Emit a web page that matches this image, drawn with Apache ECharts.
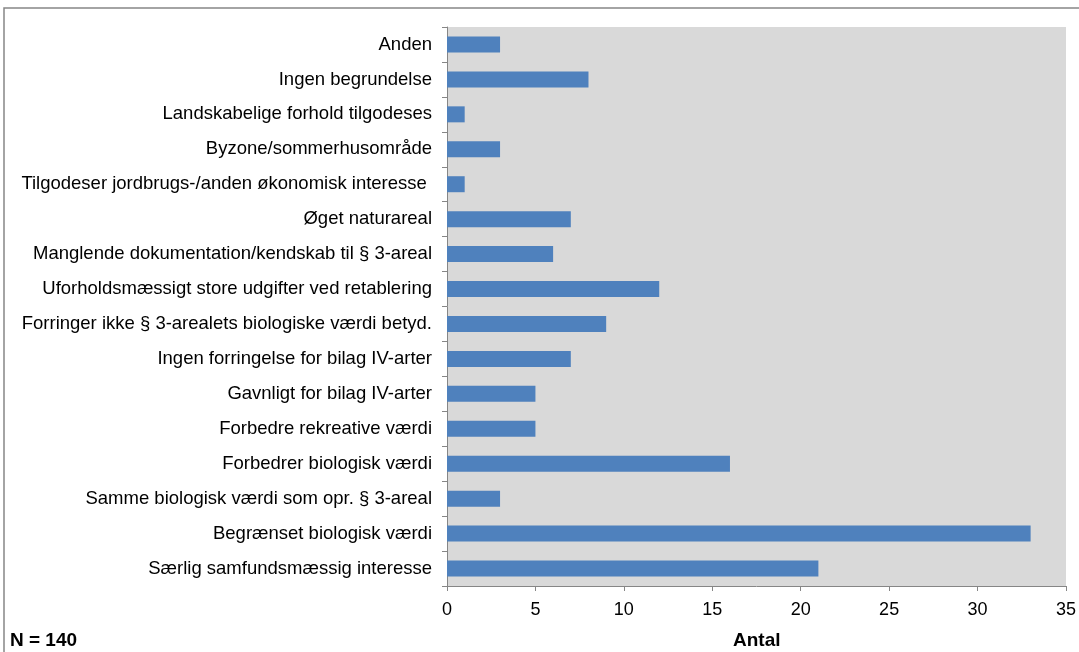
<!DOCTYPE html>
<html><head><meta charset="utf-8">
<script src="https://cdn.jsdelivr.net/npm/echarts@6/dist/echarts.min.js"></script>
<style>html,body{margin:0;padding:0;background:#fff}#c{width:1079px;height:652px}</style>
</head><body><div id="c"></div>
<script>
const categories = [
  "Særlig samfundsmæssig interesse",
  "Begrænset biologisk værdi",
  "Samme biologisk værdi som opr. § 3-areal",
  "Forbedrer biologisk værdi",
  "Forbedre rekreative værdi",
  "Gavnligt for bilag IV-arter",
  "Ingen forringelse for bilag IV-arter",
  "Forringer ikke § 3-arealets biologiske værdi betyd.",
  "Uforholdsmæssigt store udgifter ved retablering",
  "Manglende dokumentation/kendskab til § 3-areal",
  "Øget naturareal",
  "Tilgodeser jordbrugs-/anden økonomisk interesse ",
  "Byzone/sommerhusområde",
  "Landskabelige forhold tilgodeses",
  "Ingen begrundelse",
  "Anden"
];
const values = [21, 33, 3, 16, 5, 5, 7, 9, 12, 6, 7, 1, 3, 1, 8, 3];
const xTicks = [0, 5, 10, 15, 20, 25, 30, 35];
const xTitle = "Antal";
const noteText = "N = 140";

const chart = echarts.init(document.getElementById('c'));
const font = 'Liberation Sans, Arial, sans-serif';
chart.setOption({
  animation: false,
  grid: { left: 447, right: 13, top: 27, bottom: 66, backgroundColor: '#D9D9D9', show: true, borderWidth: 0 },
  xAxis: {
    type: 'value', min: xTicks[0], max: xTicks[xTicks.length - 1], interval: xTicks[1] - xTicks[0],
    axisLine: { show: true, lineStyle: { color: '#868686', width: 1 } },
    axisTick: { show: true, length: 5, lineStyle: { color: '#868686' } },
    splitLine: { show: false },
    axisLabel: { color: '#000', fontFamily: font, fontSize: 18, margin: 15 }
  },
  yAxis: {
    type: 'category', data: categories,
    axisLine: { show: true, lineStyle: { color: '#868686', width: 1 } },
    axisTick: { show: true, length: 5, lineStyle: { color: '#868686' } },
    axisLabel: { color: '#000', fontFamily: font, fontSize: 18.5, margin: 15 }
  },
  series: [{
    type: 'bar', data: values, barWidth: 16,
    itemStyle: { color: '#4F81BD' }
  }],
  graphic: [
    { type: 'rect', shape: { x: 4, y: 8, width: 1100, height: 700 }, style: { fill: 'none', stroke: '#868686', lineWidth: 1.5 }, silent: true },
    { type: 'text', left: 10, top: 631, style: { text: noteText, font: 'bold 19px ' + font, fill: '#000' } },
    { type: 'text', left: 733, top: 631, style: { text: xTitle, font: 'bold 19px ' + font, fill: '#000' } }
  ]
});
</script></body></html>
